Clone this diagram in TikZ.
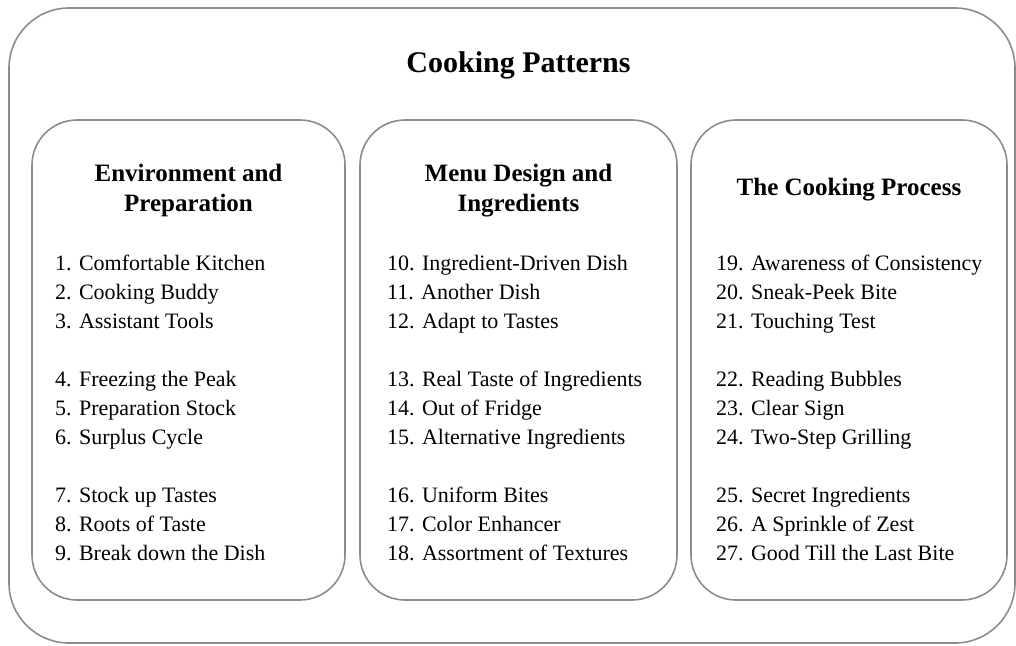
\documentclass[tikz,border=0pt]{standalone}
\usepackage{fontspec}
\setmainfont{Liberation Serif}
\definecolor{framegray}{gray}{0.55}

\begin{document}
\begin{tikzpicture}
[   x=1pt, y=-1pt,
    panel/.style={draw=framegray, line width=1.6pt, rounded corners=45pt, inner sep=0pt},
    heading/.style={font=\fontsize{25}{30}\selectfont\bfseries, anchor=base},
    item/.style={font=\fontsize{22}{29}\selectfont, anchor=base west, inner sep=0pt},
]
\useasboundingbox (0,0) rectangle (1016,645);

\node[panel, rounded corners=60pt, minimum width=1006pt, minimum height=635pt] (outer) at (512,325.5) {};
\node[font=\fontsize{30}{36}\selectfont\bfseries, anchor=base] (title) at (518.5,72) {Cooking Patterns};

\node[panel, minimum width=313pt, minimum height=480pt] (env) at (188.5,360) {};
\node[panel, minimum width=317pt, minimum height=480pt] (menu) at (518.5,360) {};
\node[panel, minimum width=316pt, minimum height=480pt] (proc) at (849,360) {};

\node[heading] (envA) at (188.5,181) {Environment and};
\node[heading] (envB) at (188.5,211) {Preparation};
\node[heading] (menuA) at (518.5,181) {Menu Design and};
\node[heading] (menuB) at (518.5,211) {Ingredients};
\node[heading] (procA) at (849,195) {The Cooking Process};

% items, three groups of three per box
\foreach \n/\k/\t in {1/0/Comfortable Kitchen, 2/1/Cooking Buddy, 3/2/Assistant Tools,
    4/4/Freezing the Peak, 5/5/Preparation Stock, 6/6/Surplus Cycle,
    7/8/Stock up Tastes, 8/9/Roots of Taste, 9/10/Break down the Dish}
  \node[item] (item\n) at (55,270+29*\k) {\n. \t};

\foreach \n/\k/\t in {10/0/Ingredient-Driven Dish, 11/1/Another Dish, 12/2/Adapt to Tastes,
    13/4/Real Taste of Ingredients, 14/5/Out of Fridge, 15/6/Alternative Ingredients,
    16/8/Uniform Bites, 17/9/Color Enhancer, 18/10/Assortment of Textures}
  \node[item] (item\n) at (387,270+29*\k) {\n. \t};

\foreach \n/\k/\t in {19/0/Awareness of Consistency, 20/1/Sneak-Peek Bite, 21/2/Touching Test,
    22/4/Reading Bubbles, 23/5/Clear Sign, 24/6/Two-Step Grilling,
    25/8/Secret Ingredients, 26/9/A Sprinkle of Zest, 27/10/Good Till the Last Bite}
  \node[item] (item\n) at (716,270+29*\k) {\n. \t};

\end{tikzpicture}
\end{document}
